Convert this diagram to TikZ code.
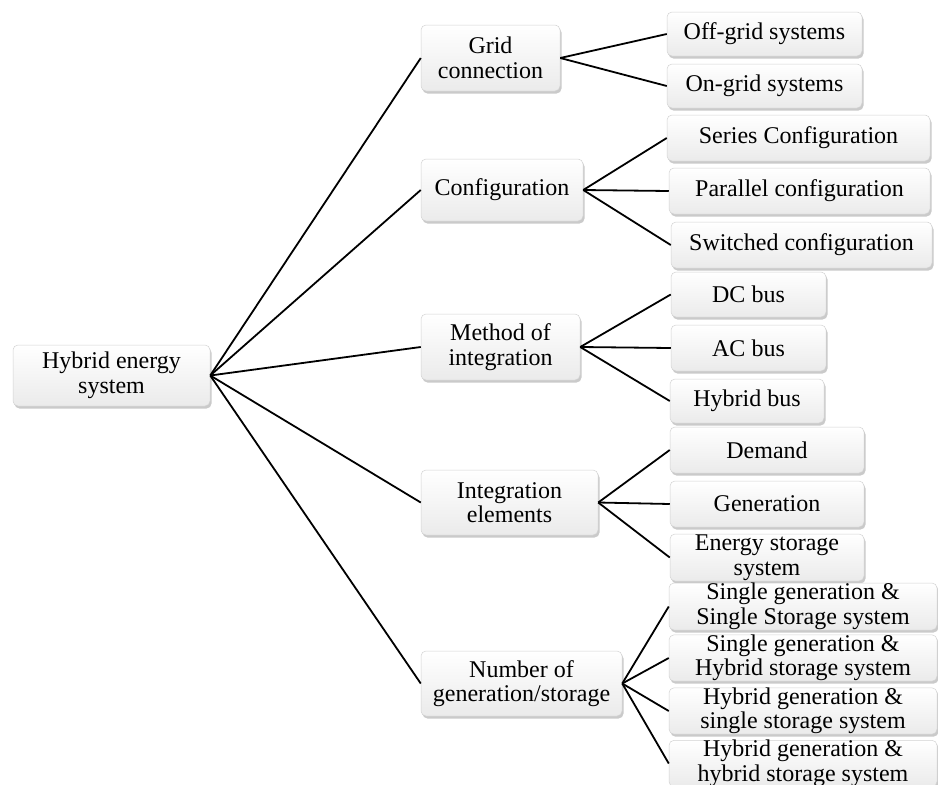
\documentclass[tikz,border=0pt]{standalone}
\usepackage{fontspec}
\setmainfont{Liberation Serif}
\usetikzlibrary{shadows}

\tikzset{
  box/.style={
    rounded corners=5pt,
    draw=gray!35, line width=0.5pt,
    top color=white, bottom color=gray!16,
    drop shadow={shadow xshift=1.5pt, shadow yshift=-2.5pt, opacity=0.35, fill=gray!80!black},
    align=center, inner sep=0pt,
    font=\fontsize{24}{24.5}\selectfont
  },
  link/.style={line width=1.8pt, black}
}

% place a box by its left, top, right and bottom edges
\newcommand{\boxat}[6]{%
  \node[box, minimum width={#4-#2}, minimum height={#5-#3}]
    (#1) at ({(#2+#4)/2},{(#3+#5)/2}) {#6};}

\begin{document}
\begin{tikzpicture}[x=1pt, y=-1pt]
  \useasboundingbox (0,0) rectangle (938,785);
  \clip (0,0) rectangle (938,785);

  % root
  \boxat{root}{13}{345}{210}{406}{Hybrid energy\\system}

  % categories
  \boxat{grid}{421}{25}{560}{91}{Grid\\connection}
  \boxat{config}{421}{159}{583}{221}{Configuration}
  \boxat{method}{421}{314}{580}{380}{Method of\\integration}
  \boxat{elem}{421}{470}{598}{535}{Integration\\elements}
  \boxat{number}{421}{651}{622}{716}{Number of\\generation/storage}

  % grid connection
  \boxat{offgrid}{667}{12}{862}{56}{Off-grid systems}
  \boxat{ongrid}{667}{64}{862}{108}{On-grid systems}

  % configuration
  \boxat{series}{667}{115}{930}{161}{Series Configuration}
  \boxat{parallel}{669}{168}{930}{214}{Parallel configuration}
  \boxat{switched}{671}{222}{932}{268}{Switched configuration}

  % method of integration
  \boxat{dcbus}{671}{272}{826}{317}{DC bus}
  \boxat{acbus}{671}{325}{826}{371}{AC bus}
  \boxat{hybus}{670}{379}{824}{423}{Hybrid bus}

  % integration elements
  \boxat{demand}{670}{427}{864}{473}{Demand}
  \boxat{generation}{670}{481}{864}{527}{Generation}
  \boxat{ess}{670}{534}{864}{581}{Energy storage\\system}

  % number of generation/storage
  \boxat{sgss}{669}{583}{937}{630}{Single generation \&\\Single Storage system}
  \boxat{sghs}{669}{635}{937}{681}{Single generation \&\\Hybrid storage system}
  \boxat{hgss}{669}{688}{937}{734}{Hybrid generation \&\\single storage system}
  \boxat{hghs}{669}{741}{937}{786}{Hybrid generation \&\\hybrid storage system}

  % connectors
  \foreach \c in {grid,config,method,elem,number}
    \draw[link] (root.east) -- (\c.west);
  \foreach \l in {offgrid,ongrid}
    \draw[link] (grid.east) -- (\l.west);
  \foreach \l in {series,parallel,switched}
    \draw[link] (config.east) -- (\l.west);
  \foreach \l in {dcbus,acbus,hybus}
    \draw[link] (method.east) -- (\l.west);
  \foreach \l in {demand,generation,ess}
    \draw[link] (elem.east) -- (\l.west);
  \foreach \l in {sgss,sghs,hgss,hghs}
    \draw[link] (number.east) -- (\l.west);
\end{tikzpicture}
\end{document}
